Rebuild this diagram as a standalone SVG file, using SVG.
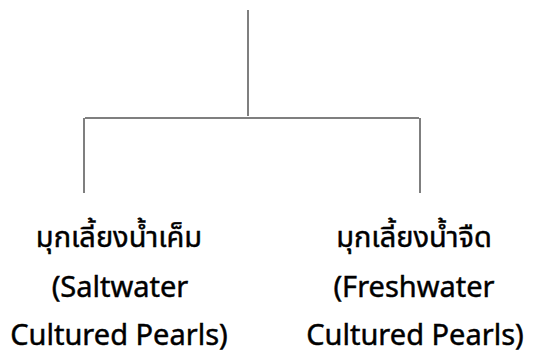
<svg xmlns="http://www.w3.org/2000/svg" width="535" height="356" viewBox="0 0 535 356">
<style>
.ln{stroke:#555;stroke-width:1.5;fill:none}
.t{font-family:"Noto Sans","Noto Sans Thai","Noto Sans CJK SC",sans-serif;font-size:29px;fill:#000;stroke:#000;stroke-width:0.45;text-anchor:middle}
</style>
<rect width="535" height="356" fill="#fff"/>
<g id="connectors">
<line class="ln" x1="248" y1="10" x2="248" y2="116"/>
<line class="ln" x1="85" y1="118" x2="419" y2="118"/>
<line class="ln" x1="84" y1="118" x2="84" y2="193"/>
<line class="ln" x1="420" y1="118" x2="420" y2="193"/>
</g>
<g id="node-saltwater">
<text class="t" x="119" y="247">มุกเลี้ยงน้ำเค็ม</text>
<text class="t" x="120" y="297">(Saltwater</text>
<text class="t" x="119" y="345">Cultured Pearls)</text>
</g>
<g id="node-freshwater">
<text class="t" x="414" y="247">มุกเลี้ยงน้ำจืด</text>
<text class="t" x="414" y="297">(Freshwater</text>
<text class="t" x="415" y="345">Cultured Pearls)</text>
</g>
</svg>
